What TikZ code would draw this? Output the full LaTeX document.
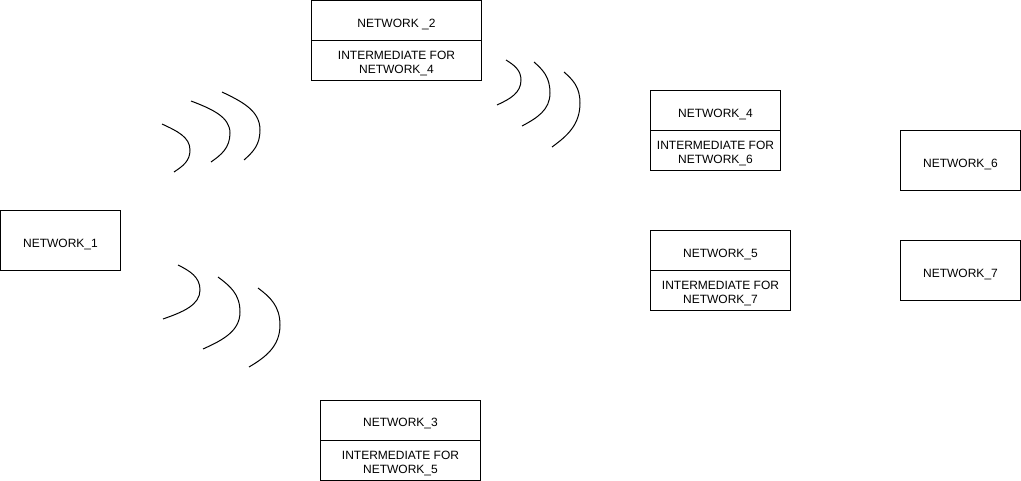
\documentclass[tikz,border=0pt]{standalone}
\usepackage{fontspec}
\setmainfont{Liberation Sans}
\usepackage{tikz}
\usetikzlibrary{positioning}

\begin{document}
\begin{tikzpicture}[x=1pt,y=-1pt]
\tikzset{box/.style = {shape=rectangle,draw,line width=1pt,inner sep=0pt,outer sep=0pt,anchor=north west,font=\fontsize{12}{14}\selectfont,text height=13.6pt,text depth=0pt}}
\tikzset{note/.style = {box,align=center,text height=26.6pt,text depth=0pt}}
\tikzset{wave/.style = {line width=1pt}}
\useasboundingbox (0,0) rectangle (1021,481);
% networks
\node[box,minimum width=120pt,minimum height=60pt] (net1) at (0.5,210.5) {NETWORK\_1};
\node[box,minimum width=170pt,minimum height=40pt] (net2) at (311.5,0.5) {NETWORK \_2};
\node[note,minimum width=170pt,minimum height=40pt,below=0pt of net2] (net2i) {INTERMEDIATE FOR\\NETWORK\_4};
\node[box,minimum width=160pt,minimum height=40pt] (net3) at (320.5,400) {NETWORK\_3};
\node[note,minimum width=160pt,minimum height=40pt,below=0pt of net3] (net3i) {INTERMEDIATE FOR\\NETWORK\_5};
\node[box,minimum width=130pt,minimum height=40pt] (net4) at (650.5,90.5) {NETWORK\_4};
\node[note,minimum width=130pt,minimum height=40pt,below=0pt of net4] (net4i) {INTERMEDIATE FOR\\NETWORK\_6};
\node[box,minimum width=140pt,minimum height=40pt] (net5) at (650.5,230.5) {NETWORK\_5};
\node[note,minimum width=140pt,minimum height=40pt,below=0pt of net5] (net5i) {INTERMEDIATE FOR\\NETWORK\_7};
\node[box,minimum width=120pt,minimum height=60pt] (net6) at (900.5,130.5) {NETWORK\_6};
\node[box,minimum width=120pt,minimum height=60pt] (net7) at (900.5,240.5) {NETWORK\_7};
% signal waves
\draw[wave] (162,124) .. controls +(15,7) and +(0,-13) .. (190,150) .. controls +(0,11) and +(9,-6) .. (174,172);
\draw[wave] (191,101) .. controls +(21,8) and +(0,-16) .. (230,133) .. controls +(0,15) and +(10,-7) .. (211,162);
\draw[wave] (222,92) .. controls +(21,10) and +(0,-19) .. (260,130) .. controls +(0,15) and +(9,-8) .. (244,160);
\draw[wave] (178,265) .. controls +(12,6) and +(0,-13) .. (200,290) .. controls +(0,15) and +(20,-7) .. (163,319);
\draw[wave] (218,277) .. controls +(12,9) and +(0,-18) .. (240,312) .. controls +(0,19) and +(20,-9) .. (203,349);
\draw[wave] (258,288) .. controls +(12,9) and +(0,-19) .. (280,325) .. controls +(0,21) and +(17,-10) .. (249,367);
\draw[wave] (506,60) .. controls +(8,5) and +(0,-10) .. (521,80) .. controls +(0,13) and +(13,-6) .. (497,105);
\draw[wave] (534,62) .. controls +(9,8) and +(0,-16) .. (550,93) .. controls +(0,17) and +(15,-8) .. (522,126);
\draw[wave] (564,72) .. controls +(9,8) and +(0,-16) .. (580,103) .. controls +(0,22) and +(15,-11) .. (552,147);
\end{tikzpicture}
\end{document}
